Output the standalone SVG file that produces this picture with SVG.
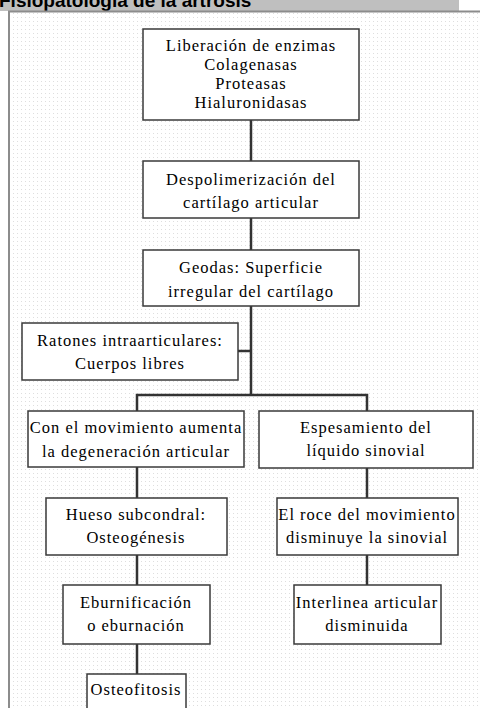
<svg xmlns="http://www.w3.org/2000/svg" width="480" height="708" viewBox="0 0 480 708">
<defs>
<pattern id="dots" x="0" y="0" width="4" height="4" patternUnits="userSpaceOnUse">
<rect x="1" y="1" width="1" height="1" fill="#dedede"/>
</pattern>
<style>
.box{fill:#fff;stroke:#3a3a3a;stroke-width:1.5}
.lbl{font-family:"Liberation Serif","Times New Roman","DejaVu Serif",serif;font-size:16.5px;letter-spacing:1px;fill:#000;text-anchor:middle}
.con{fill:none;stroke:#333;stroke-width:2.5}
.title{font-family:"Liberation Sans",Arial,sans-serif;font-size:19px;font-weight:bold;fill:#000}
</style>
</defs>
<rect x="0" y="0" width="480" height="708" fill="#fff"/>
<rect x="0" y="0" width="459" height="11" fill="#bfbfbf"/>
<text class="title" x="-1" y="7">Fisiopatología de la artrosis</text>
<rect x="9" y="12" width="471" height="696" fill="url(#dots)"/>
<line x1="8" y1="11.5" x2="480" y2="11.5" stroke="#8c8c8c" stroke-width="2"/>
<line x1="9" y1="11" x2="9" y2="708" stroke="#8c8c8c" stroke-width="2"/>

<g id="connectors">
<line class="con" x1="251" y1="120" x2="251" y2="161"/>
<line class="con" x1="251" y1="218" x2="251" y2="250"/>
<polyline class="con" points="251,306 251,395"/>
<line class="con" x1="238" y1="351" x2="251" y2="351"/>
<polyline class="con" points="137,411 137,395 367,395 367,411"/>
<line class="con" x1="137" y1="467" x2="137" y2="498"/>
<line class="con" x1="137" y1="555" x2="137" y2="585"/>
<line class="con" x1="137" y1="644" x2="137" y2="674"/>
<line class="con" x1="367" y1="468" x2="367" y2="498"/>
<line class="con" x1="367" y1="555" x2="367" y2="585"/>
</g>

<g id="n1">
<rect class="box" x="143" y="29" width="216" height="91"/>
<text class="lbl" x="251" y="51">Liberación de enzimas</text>
<text class="lbl" x="251" y="70">Colagenasas</text>
<text class="lbl" x="251" y="89">Proteasas</text>
<text class="lbl" x="251" y="108">Hialuronidasas</text>
</g>
<g id="n2">
<rect class="box" x="143" y="161" width="216" height="57"/>
<text class="lbl" x="251" y="185">Despolimerización del</text>
<text class="lbl" x="251" y="208">cartílago articular</text>
</g>
<g id="n3">
<rect class="box" x="143" y="250" width="216" height="56"/>
<text class="lbl" x="251" y="273">Geodas: Superficie</text>
<text class="lbl" x="251" y="297">irregular del cartílago</text>
</g>
<g id="n4">
<rect class="box" x="22" y="323" width="216" height="57"/>
<text class="lbl" x="130" y="346">Ratones intraarticulares:</text>
<text class="lbl" x="130" y="369">Cuerpos libres</text>
</g>
<g id="n5">
<rect class="box" x="28" y="411" width="216" height="56"/>
<text class="lbl" x="136" y="433">Con el movimiento aumenta</text>
<text class="lbl" x="136" y="457">la degeneración articular</text>
</g>
<g id="n6">
<rect class="box" x="259" y="411" width="214" height="57"/>
<text class="lbl" x="366" y="433">Espesamiento del</text>
<text class="lbl" x="366" y="456">líquido sinovial</text>
</g>
<g id="n7">
<rect class="box" x="46" y="498" width="181" height="57"/>
<text class="lbl" x="136" y="520">Hueso subcondral:</text>
<text class="lbl" x="136" y="543">Osteogénesis</text>
</g>
<g id="n8">
<rect class="box" x="277" y="498" width="181" height="57"/>
<text class="lbl" x="367" y="520">El roce del movimiento</text>
<text class="lbl" x="367" y="543">disminuye la sinovial</text>
</g>
<g id="n9">
<rect class="box" x="63" y="585" width="147" height="59"/>
<text class="lbl" x="136" y="608">Eburnificación</text>
<text class="lbl" x="136" y="631">o eburnación</text>
</g>
<g id="n10">
<rect class="box" x="294" y="585" width="147" height="59"/>
<text class="lbl" x="367" y="608">Interlinea articular</text>
<text class="lbl" x="367" y="631">disminuida</text>
</g>
<g id="n11">
<rect class="box" x="87" y="674" width="99" height="40"/>
<text class="lbl" x="136" y="695">Osteofitosis</text>
</g>
</svg>
